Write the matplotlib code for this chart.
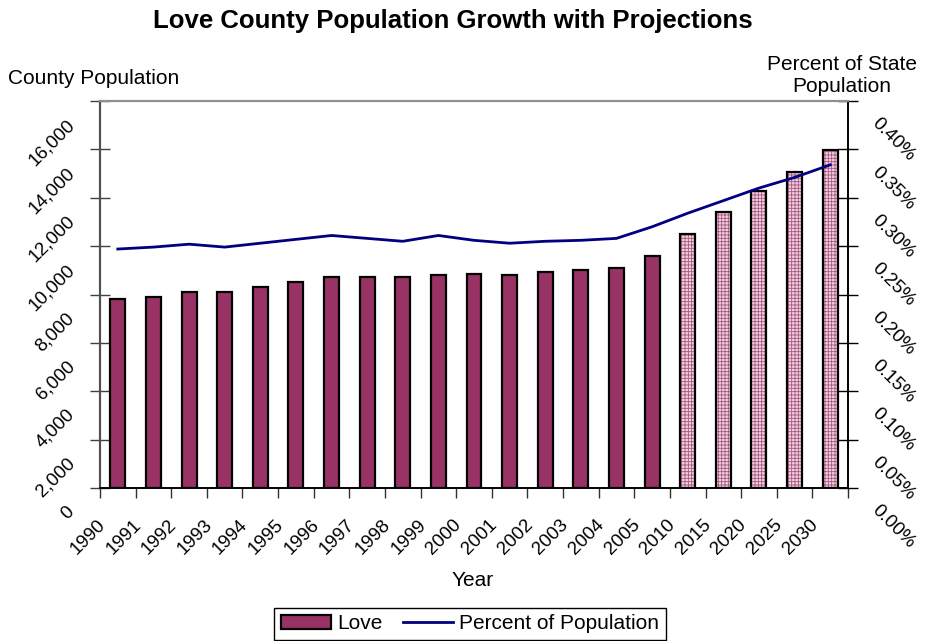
import numpy as np
import matplotlib
matplotlib.use('Agg')
import matplotlib.pyplot as plt
from matplotlib.patches import Patch
from matplotlib.lines import Line2D
from matplotlib.transforms import ScaledTranslation, blended_transform_factory

plt.rcParams['font.family'] = ['Liberation Sans', 'DejaVu Sans']
plt.rcParams['hatch.linewidth'] = 0.6

# data
years = ['1990', '1991', '1992', '1993', '1994', '1995', '1996', '1997', '1998', '1999',
         '2000', '2001', '2002', '2003', '2004', '2005', '2010', '2015', '2020', '2025', '2030']
population = [7810, 7905, 8112, 8112, 8318, 8512, 8706, 8706, 8706, 8801,
              8855, 8801, 8912, 9008, 9103, 9599, 10483, 11392, 12273, 13058, 13967]
pct_state = [0.247, 0.249, 0.252, 0.249, 0.253, 0.257, 0.261, 0.258, 0.255, 0.261,
             0.256, 0.253, 0.255, 0.256, 0.258, 0.270, 0.284, 0.297, 0.310, 0.321, 0.334]
n_actual = 16  # 1990-2005 are counts, the rest projections

pop_ticks = list(range(0, 16001, 2000))
pct_ticks = [0.00, 0.05, 0.10, 0.15, 0.20, 0.25, 0.30, 0.35, 0.40]

bar_color = '#993366'
line_color = '#000080'

fig = plt.figure(figsize=(9.45, 6.41), dpi=100)
ax = fig.add_axes([100 / 945, 1 - 488 / 641, 748 / 945, 387 / 641])

x = np.arange(len(years))
ax.bar(x[:n_actual], population[:n_actual], width=0.42, color=bar_color,
       edgecolor='black', linewidth=1.6, zorder=2)
# projected bars: pink grid pattern
ax.bar(x[n_actual:], population[n_actual:], width=0.42, color='#efd0e0',
       edgecolor='#a8587f', hatch='+++++', linewidth=0, zorder=2)
ax.bar(x[n_actual:], population[n_actual:], width=0.42, fill=False,
       edgecolor='black', linewidth=1.6, zorder=3)

ax.set_xlim(-0.5, len(years) - 0.5)
ax.set_ylim(0, 16000)
ax.set_xticks(np.arange(-0.5, len(years), 1))
ax.set_xticklabels([])
ax.set_yticks(pop_ticks)
ax.set_yticklabels([])
ax.tick_params(axis='x', direction='out', length=7, width=1, color='#303030')
ax.tick_params(axis='y', direction='inout', length=14, width=1, color='#404040')

ax2 = ax.twinx()
ax2.plot(x, pct_state, color=line_color, linewidth=2, zorder=4)
ax2.set_ylim(0, 0.40)
ax2.set_yticks(pct_ticks)
ax2.set_yticklabels([])
ax2.tick_params(axis='y', direction='inout', length=14, width=1, color='black')

# frame
for a in (ax, ax2):
    a.spines['top'].set_color('#909090')
    a.spines['top'].set_linewidth(1.5)
    a.spines['left'].set_color('#505050')
    a.spines['left'].set_linewidth(1.5)
    a.spines['right'].set_color('black')
    a.spines['right'].set_linewidth(1.2)
    a.spines['bottom'].set_color('black')
    a.spines['bottom'].set_linewidth(1.2)

# rotated tick labels, placed like the original
tick_fs = 13.5
left_tr = blended_transform_factory(ax.transAxes, ax.transData)
off_left = ScaledTranslation(-22 / 100, -27 / 100, fig.dpi_scale_trans)
for v in pop_ticks:
    ax.text(0, v, f'{v:,}', transform=left_tr + off_left, rotation=45,
            rotation_mode='anchor', ha='right', va='bottom', fontsize=tick_fs)

right_tr = blended_transform_factory(ax2.transAxes, ax2.transData)
off_right = ScaledTranslation(32 / 100, -14 / 100, fig.dpi_scale_trans)
for v in pct_ticks:
    ax2.text(1, v, f'{v:.2f}%', transform=right_tr + off_right, rotation=-45,
             rotation_mode='anchor', ha='left', va='top', fontsize=tick_fs)

bot_tr = blended_transform_factory(ax.transData, ax.transAxes)
off_bot = ScaledTranslation(-9 / 100, -40 / 100, fig.dpi_scale_trans)
for i, yr in enumerate(years):
    ax.text(i, 0, yr, transform=bot_tr + off_bot, rotation=45,
            rotation_mode='anchor', ha='right', va='bottom', fontsize=tick_fs)

fig.text(453 / 945, 1 - 21 / 641, 'Love County Population Growth with Projections',
         ha='center', va='center', fontsize=18.5, fontweight='bold')
fig.text(8 / 945, 1 - 78 / 641, 'County Population', ha='left', va='center', fontsize=15)
fig.text(842 / 945, 1 - 75 / 641, 'Percent of State\nPopulation', ha='center',
         va='center', fontsize=15, linespacing=1.2)
fig.text(473 / 945, 1 - 580 / 641, 'Year', ha='center', va='center', fontsize=15)

handles = [Patch(facecolor=bar_color, edgecolor='black', linewidth=1.6, label='Love'),
           Line2D([], [], color=line_color, linewidth=2, label='Percent of Population')]
leg = fig.legend(handles=handles, loc='upper center', bbox_to_anchor=(470 / 945, 1 - 608 / 641),
                 ncol=2, fontsize=15, frameon=True, fancybox=False, edgecolor='black',
                 framealpha=1, borderaxespad=0, handlelength=2.4, columnspacing=1.0,
                 handletextpad=0.3, borderpad=0.3)
leg.get_frame().set_linewidth(1)

fig.savefig('out.png', dpi=100)
